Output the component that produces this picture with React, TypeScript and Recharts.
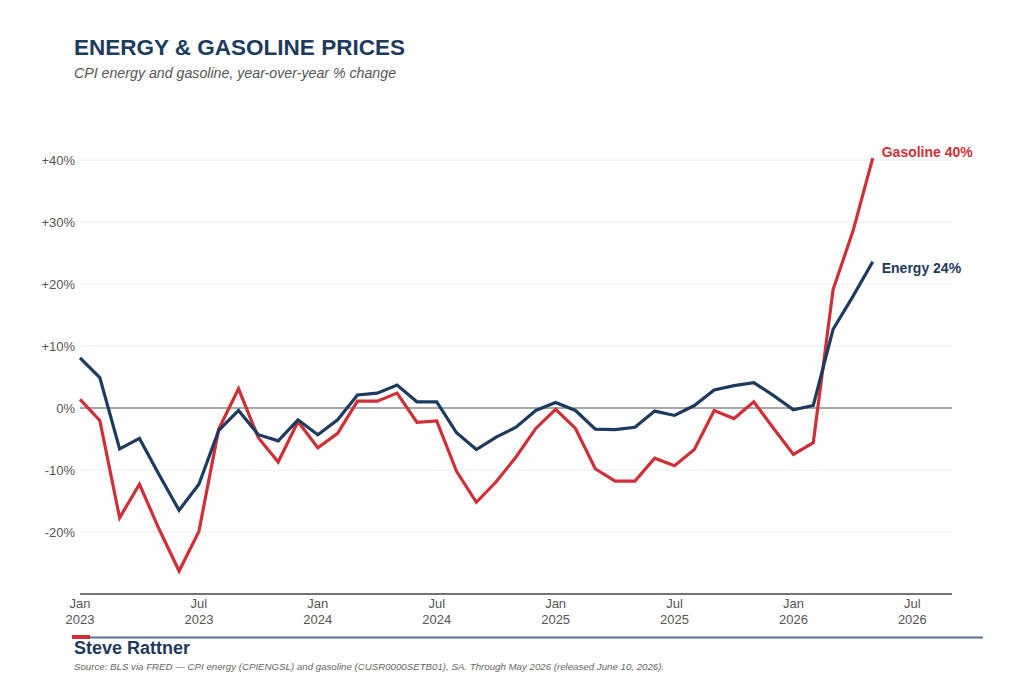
import React from "react";
import { LineChart, Line, XAxis, YAxis, CartesianGrid, ReferenceLine, LabelList } from "recharts";

// monthly, Jan 2023 .. May 2026 (index = months since Jan 2023)
const energy = [
  8.1, 4.9, -6.6, -4.9, -10.8, -16.5, -12.3, -3.6, -0.4, -4.3, -5.3, -1.9,
  -4.3, -1.9, 2.1, 2.4, 3.7, 1.0, 1.0, -4.0, -6.7, -4.7, -3.1, -0.4,
  0.9, -0.4, -3.4, -3.5, -3.1, -0.5, -1.2, 0.4, 2.9, 3.6, 4.1, 2.0,
  -0.3, 0.4, 12.7, 18.0, 23.6,
];
const gasoline = [
  1.4, -2.0, -17.7, -12.3, -19.6, -26.3, -19.9, -3.4, 3.1, -4.8, -8.7, -2.2,
  -6.4, -4.1, 1.1, 1.1, 2.4, -2.3, -2.1, -10.2, -15.2, -11.9, -7.9, -3.3,
  -0.2, -3.3, -9.8, -11.8, -11.8, -8.1, -9.3, -6.7, -0.4, -1.7, 1.0, -3.3,
  -7.5, -5.6, 19.1, 28.5, 40.3,
];
const xTicks = [0, 6, 12, 18, 24, 30, 36, 42];
const xTickLabels = [
  ["Jan", "2023"], ["Jul", "2023"], ["Jan", "2024"], ["Jul", "2024"],
  ["Jan", "2025"], ["Jul", "2025"], ["Jan", "2026"], ["Jul", "2026"],
];
const yTicks = [-20, -10, 0, 10, 20, 30, 40];
const endLabels = { gasoline: "Gasoline 40%", energy: "Energy 24%" };

const data = energy.map((e, i) => ({ m: i, energy: e, gasoline: gasoline[i] }));

const NAVY = "#1d3a5f";
const RED = "#cf3036";
const FONT = "'Liberation Sans', Arial, Helvetica, sans-serif";

const XTick = ({ x, y, payload }: any) => {
  const idx = xTicks.indexOf(payload.value);
  const [a, b] = xTickLabels[idx] ?? ["", ""];
  return (
    <text x={x} y={y} textAnchor="middle" fill="#555" fontSize={13} fontFamily={FONT}>
      <tspan x={x} dy={14}>{a}</tspan>
      <tspan x={x} dy={15.5}>{b}</tspan>
    </text>
  );
};

const YTick = ({ x, y, payload }: any) => {
  const v = payload.value;
  return (
    <text x={x - 5} y={y} dy={4.6} textAnchor="end" fill="#555" fontSize={13} fontFamily={FONT}>
      {v > 0 ? `+${v}%` : `${v}%`}
    </text>
  );
};

const endLabel = (text: string, color: string, dy: number) => (p: any) => {
  if (p.index !== data.length - 1) return null;
  return (
    <text x={p.x + 9} y={p.y} dy={dy} fill={color} fontSize={14} fontWeight="bold" fontFamily={FONT}>
      {text}
    </text>
  );
};

export default function App() {
  return (
    <div style={{ position: "relative", width: 1024, height: 683, margin: -8, background: "#fff", fontFamily: FONT }}>
      <LineChart width={1024} height={683} data={data} margin={{ top: 129, right: 72, bottom: 49, left: 0 }}>
        <CartesianGrid vertical={false} horizontalValues={yTicks} stroke="#ececec" strokeWidth={1} />
        <XAxis
          dataKey="m"
          type="number"
          domain={[0, 44]}
          ticks={xTicks}
          tick={<XTick />}
          tickLine={false}
          tickSize={0}
          tickMargin={0}
          height={40}
          axisLine={{ stroke: "#444", strokeWidth: 1.5 }}
          interval={0}
        />
        <YAxis
          type="number"
          domain={[-30, 45]}
          ticks={yTicks}
          tick={<YTick />}
          tickLine={false}
          tickSize={0}
          tickMargin={0}
          axisLine={false}
          width={80}
          interval={0}
        />
        <ReferenceLine y={0} stroke="#8c8c8c" strokeWidth={1.3} />
        <Line dataKey="gasoline" stroke={RED} strokeWidth={3.2} dot={false} isAnimationActive={false}>
          <LabelList dataKey="gasoline" content={endLabel(endLabels.gasoline, RED, -1)} />
        </Line>
        <Line dataKey="energy" stroke={NAVY} strokeWidth={3.2} dot={false} isAnimationActive={false}>
          <LabelList dataKey="energy" content={endLabel(endLabels.energy, NAVY, 11)} />
        </Line>
      </LineChart>
      <svg width={1024} height={683} style={{ position: "absolute", left: 0, top: 0, pointerEvents: "none" }}>
        <text x={74} y={54.5} fill={NAVY} fontSize={22.5} fontWeight="bold" fontFamily={FONT}>
          ENERGY &amp; GASOLINE PRICES
        </text>
        <text x={74} y={77.5} fill="#555" fontSize={14.2} fontStyle="italic" fontFamily={FONT}>
          CPI energy and gasoline, year-over-year % change
        </text>
        <line x1={72} x2={983} y1={637.5} y2={637.5} stroke="#5b6f8e" strokeWidth={2} />
        <line x1={72} x2={90} y1={637} y2={637} stroke={RED} strokeWidth={4} />
        <text x={74} y={654} fill={NAVY} fontSize={18} fontWeight="bold" fontFamily={FONT}>
          Steve Rattner
        </text>
        <text x={74} y={670} fill="#666" fontSize={9.7} fontStyle="italic" fontFamily={FONT}>
          Source: BLS via FRED — CPI energy (CPIENGSL) and gasoline (CUSR0000SETB01), SA. Through May 2026 (released June 10, 2026).
        </text>
      </svg>
    </div>
  );
}
